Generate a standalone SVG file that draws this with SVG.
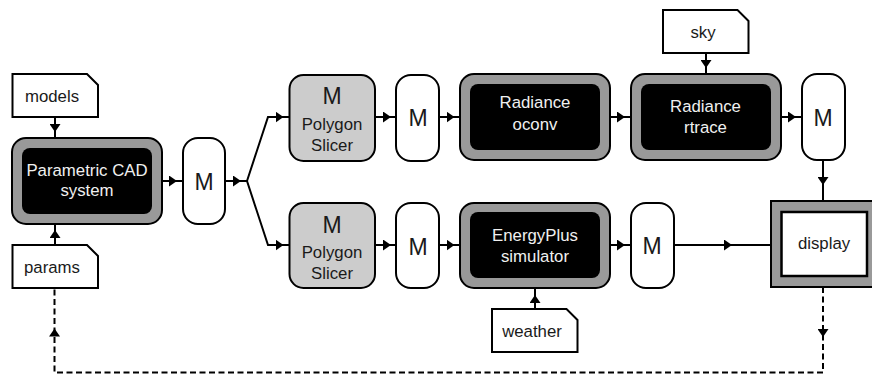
<svg xmlns="http://www.w3.org/2000/svg" width="872" height="374" viewBox="0 0 872 374">
<style>
text{font-family:"Liberation Sans",Arial,sans-serif;text-anchor:middle;font-size:16.800px;fill:#1a1a1a}
.w{fill:#f0f0f0}
.m{font-size:23px}
.o{fill:#999;stroke:#000;stroke-width:2}
.i{fill:#000;stroke:none}
.n{fill:#fff;stroke:#000;stroke-width:2}
.s{fill:#ccc;stroke:#000;stroke-width:2}
.c{fill:none;stroke:#000;stroke-width:2;marker-mid:url(#a)}
.l{fill:none;stroke:#000;stroke-width:2}
.d{stroke-dasharray:6 3.500}
.h{fill:none;stroke:none;marker-mid:url(#a)}
</style>
<defs>
<marker id="a" markerUnits="userSpaceOnUse" markerWidth="9" markerHeight="11" refX="8" refY="5.500" orient="auto"><path d="M0 0L8 5.500L0 11Z" fill="#000"/></marker>
<path id="note" d="M0 0H74.500L85.500 11V43H0Z"/>
</defs>
<g id="connectors">
<path class="c" d="M55 117V132V138"/>
<path class="c" d="M55 245V230V224"/>
<path class="c" d="M162 181H177H183"/>
<path class="c" d="M225 181H241H247"/>
<path class="l" d="M247 181L268 117H276"/>
<path class="l" d="M247 181L268 245H276"/>
<path class="c" d="M268 117H283.500H290"/>
<path class="c" d="M268 245H283.500H290"/>
<path class="c" d="M375 117H391H396"/>
<path class="c" d="M439 117H454.500H460"/>
<path class="c" d="M610 117H625H631"/>
<path class="c" d="M781 117H796H802"/>
<path class="c" d="M706 53V68V74"/>
<path class="c" d="M823 160V185V201"/>
<path class="c" d="M375 245H391H396"/>
<path class="c" d="M439 245H454.500H460"/>
<path class="c" d="M610 245H625H631"/>
<path class="c" d="M674 245H732H771"/>
<path class="c" d="M535 309V295V288"/>
<path class="l d" d="M823 287V372.500H54.500V288"/>
<path class="h" d="M823 330V337V340"/>
<path class="h" d="M54.500 335V328.500V325"/>
</g>
<g id="models"><use href="#note" x="12.500" y="74" class="n"/><text x="52" y="102">models</text></g>
<g id="params"><use href="#note" x="12.500" y="245" class="n"/><text x="52" y="273">params</text></g>
<g id="sky"><use href="#note" x="663" y="10" class="n"/><text x="703" y="38">sky</text></g>
<g id="weather"><use href="#note" x="492" y="309" class="n"/><text x="532" y="337">weather</text></g>
<g id="cad"><rect class="o" x="12" y="138" width="150" height="86" rx="14"/><rect class="i" x="22" y="148" width="130" height="66" rx="8"/><text class="w" x="87" y="176">Parametric CAD</text><text class="w" x="87" y="196">system</text></g>
<g id="m1"><rect class="n" x="183" y="138" width="42" height="86" rx="15"/><text class="m" x="204" y="190">M</text></g>
<g id="slicer1"><rect class="s" x="289.500" y="75" width="85.500" height="86" rx="14"/><text class="m" x="332" y="104">M</text><text x="332" y="130">Polygon</text><text x="332" y="151">Slicer</text></g>
<g id="m2"><rect class="n" x="396" y="75" width="43" height="86" rx="15"/><text class="m" x="418" y="126">M</text></g>
<g id="oconv"><rect class="o" x="460" y="74" width="150" height="86" rx="14"/><rect class="i" x="470" y="84" width="130" height="66" rx="8"/><text class="w" x="535" y="108">Radiance</text><text class="w" x="535" y="130">oconv</text></g>
<g id="rtrace"><rect class="o" x="631" y="74" width="150" height="86" rx="14"/><rect class="i" x="641" y="84" width="130" height="66" rx="8"/><text class="w" x="705.500" y="112">Radiance</text><text class="w" x="705.500" y="133">rtrace</text></g>
<g id="m3"><rect class="n" x="802" y="74" width="43" height="86" rx="15"/><text class="m" x="823" y="126">M</text></g>
<g id="slicer2"><rect class="s" x="289.500" y="203" width="85.500" height="85" rx="14"/><text class="m" x="332" y="233">M</text><text x="332" y="258">Polygon</text><text x="332" y="279">Slicer</text></g>
<g id="m4"><rect class="n" x="396" y="203" width="43" height="85" rx="15"/><text class="m" x="418" y="255">M</text></g>
<g id="energyplus"><rect class="o" x="460" y="203" width="150" height="85" rx="14"/><rect class="i" x="470" y="212" width="130" height="66" rx="8"/><text class="w" x="535" y="241">EnergyPlus</text><text class="w" x="535" y="262">simulator</text></g>
<g id="m5"><rect class="n" x="631" y="203" width="43" height="85" rx="15"/><text class="m" x="652" y="254">M</text></g>
<g id="display"><rect class="o" x="771" y="201" width="106" height="86"/><rect class="n" x="781.500" y="212" width="85.500" height="64" style="stroke-width:2.500"/><text x="824" y="249">display</text></g>
</svg>
